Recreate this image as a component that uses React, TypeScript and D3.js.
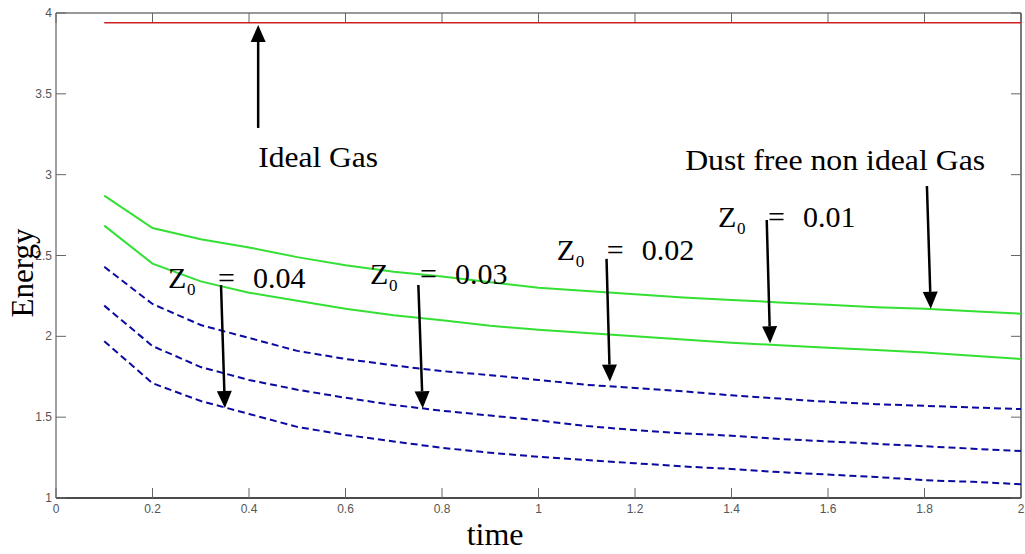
import React from "react";
import * as d3 from "d3";

const times = [0.1, 0.2, 0.3, 0.4, 0.5, 0.6, 0.7, 0.8, 0.9, 1.0, 1.1, 1.2, 1.3, 1.4, 1.5, 1.6, 1.7, 1.8, 1.9, 2.0];
const idealGas = [3.94, 3.94, 3.94, 3.94, 3.94, 3.94, 3.94, 3.94, 3.94, 3.94, 3.94, 3.94, 3.94, 3.94, 3.94, 3.94, 3.94, 3.94, 3.94, 3.94];
const dustFree1 = [2.87, 2.67, 2.6, 2.55, 2.49, 2.44, 2.4, 2.37, 2.335, 2.3, 2.28, 2.26, 2.24, 2.225, 2.21, 2.195, 2.18, 2.17, 2.155, 2.14];
const dustFree2 = [2.685, 2.45, 2.34, 2.27, 2.22, 2.17, 2.13, 2.1, 2.065, 2.04, 2.02, 2.0, 1.98, 1.96, 1.945, 1.93, 1.915, 1.9, 1.88, 1.86];
const dusty1 = [2.43, 2.2, 2.07, 1.99, 1.91, 1.86, 1.82, 1.785, 1.76, 1.73, 1.7, 1.68, 1.66, 1.635, 1.615, 1.595, 1.58, 1.57, 1.56, 1.55];
const dusty2 = [2.19, 1.94, 1.81, 1.73, 1.67, 1.62, 1.575, 1.54, 1.51, 1.48, 1.445, 1.42, 1.4, 1.385, 1.365, 1.35, 1.335, 1.32, 1.305, 1.29];
const dusty3 = [1.97, 1.71, 1.6, 1.52, 1.44, 1.39, 1.35, 1.31, 1.28, 1.255, 1.235, 1.215, 1.195, 1.18, 1.16, 1.145, 1.13, 1.11, 1.1, 1.085];

const xTicks = [0, 0.2, 0.4, 0.6, 0.8, 1, 1.2, 1.4, 1.6, 1.8, 2];
const yTicks = [1, 1.5, 2, 2.5, 3, 3.5, 4];

// annotation arrows in data units: [tailT, tailE, tipT, tipE]
const arrows: [number, number, number, number][] = [
  [0.419, 3.289, 0.419, 3.926],
  [0.342, 2.318, 0.35, 1.557],
  [0.751, 2.318, 0.76, 1.555],
  [1.141, 2.479, 1.148, 1.72],
  [1.473, 2.72, 1.48, 1.957],
  [1.805, 2.93, 1.813, 2.17],
];
// Z0 labels: value text, anchor t, anchor E (baseline)
const zLabels: [string, number, number][] = [
  ["0.04", 0.232, 2.299],
  ["0.03", 0.651, 2.324],
  ["0.02", 1.038, 2.473],
  ["0.01", 1.372, 2.678],
];

export default function App() {
  const W = 1025, H = 554;
  const x = d3.scaleLinear().domain([0, 2]).range([56, 1021]);
  const y = d3.scaleLinear().domain([1, 4]).range([498, 13]);
  const line = d3.line<number>().x((_, i) => x(times[i])).y((d) => y(d));

  const serif = "'Liberation Serif', 'Times New Roman', serif";
  const sans = "'Liberation Sans', Arial, sans-serif";
  const tickLen = 10;
  const [x0, x1] = x.range();
  const [y0, y1] = y.range();

  const arrowEls = arrows.map(([t1, e1, t2, e2], i) => {
    const ax = x(t1), ay = y(e1), bx = x(t2), by = y(e2);
    const dx = bx - ax, dy = by - ay;
    const len = Math.hypot(dx, dy);
    const ux = dx / len, uy = dy / len;
    const hl = 17, hw = 7.5;
    const baseX = bx - ux * hl, baseY = by - uy * hl;
    const px = -uy, py = ux;
    const pts = `${bx},${by} ${baseX + px * hw},${baseY + py * hw} ${baseX - px * hw},${baseY - py * hw}`;
    return (
      <g key={i}>
        <line x1={ax} y1={ay} x2={baseX} y2={baseY} stroke="#000" strokeWidth={2.5} />
        <polygon points={pts} fill="#000" />
      </g>
    );
  });

  return (
    <svg width={W} height={H} style={{ position: "absolute", left: 0, top: 0, background: "#fff" }}>
      <rect x={0} y={0} width={W} height={H} fill="#fff" />
      {/* axes box */}
      <line x1={x0} y1={y0} x2={x1} y2={y0} stroke="#111" strokeWidth={1.5} />
      <line x1={x0} y1={y1} x2={x1} y2={y1} stroke="#333" strokeWidth={1.2} />
      <line x1={x0} y1={y0} x2={x0} y2={y1} stroke="#808080" strokeWidth={1.5} />
      <line x1={x1} y1={y0} x2={x1} y2={y1} stroke="#222" strokeWidth={1.2} />
      {xTicks.map((t) => (
        <g key={"xt" + t}>
          <line x1={x(t)} x2={x(t)} y1={y0} y2={y0 - tickLen} stroke="#666" strokeWidth={1} />
          <line x1={x(t)} x2={x(t)} y1={y1} y2={y1 + tickLen} stroke="#666" strokeWidth={1} />
          <text x={x(t)} y={y0 + 15} fontSize={12} fontFamily={sans} fill="#555" textAnchor="middle">{t}</text>
        </g>
      ))}
      {yTicks.map((v) => (
        <g key={"yt" + v}>
          <line x1={x0} x2={x0 + tickLen} y1={y(v)} y2={y(v)} stroke="#666" strokeWidth={1} />
          <line x1={x1} x2={x1 - tickLen} y1={y(v)} y2={y(v)} stroke="#666" strokeWidth={1} />
          <text x={x0 - 4} y={y(v) + 4} fontSize={12} fontFamily={sans} fill="#555" textAnchor="end">{v}</text>
        </g>
      ))}
      {/* series */}
      <path d={line(idealGas) || ""} fill="none" stroke="#cc2020" strokeWidth={1.6} />
      <path d={line(dustFree1) || ""} fill="none" stroke="#33e033" strokeWidth={2} />
      <path d={line(dustFree2) || ""} fill="none" stroke="#33e033" strokeWidth={2} />
      {[dusty1, dusty2, dusty3].map((s, i) => (
        <path key={i} d={line(s) || ""} fill="none" stroke="#0a0aa0" strokeWidth={2} strokeDasharray="7,4" />
      ))}
      {/* annotations */}
      {arrowEls}
      <text x={x(0.419)} y={y(3.048)} fontSize={30} fontFamily={serif} fill="#000" textLength={120} lengthAdjust="spacingAndGlyphs">Ideal Gas</text>
      <text x={x(1.304)} y={y(3.029)} fontSize={30} fontFamily={serif} fill="#000" textLength={300} lengthAdjust="spacingAndGlyphs">Dust free non ideal Gas</text>
      {zLabels.map(([v, t, e]) => {
        const bx = x(t), by = y(e);
        return (
          <g key={v} fontFamily={serif} fill="#000">
            <text x={bx} y={by} fontSize={30}>Z</text>
            <text x={bx + 19} y={by + 7} fontSize={17}>0</text>
            <text x={bx + 50} y={by} fontSize={30}>=</text>
            <text x={bx + 85} y={by} fontSize={30}>{v}</text>
          </g>
        );
      })}
      <text x={x(0.91)} y={545} fontSize={32} fontFamily={serif} fill="#000" textAnchor="middle">time</text>
      <text transform={`translate(33, ${y(2.392)}) rotate(-90)`} fontSize={31} fontFamily={serif} fill="#000" textAnchor="middle">Energy</text>
    </svg>
  );
}
